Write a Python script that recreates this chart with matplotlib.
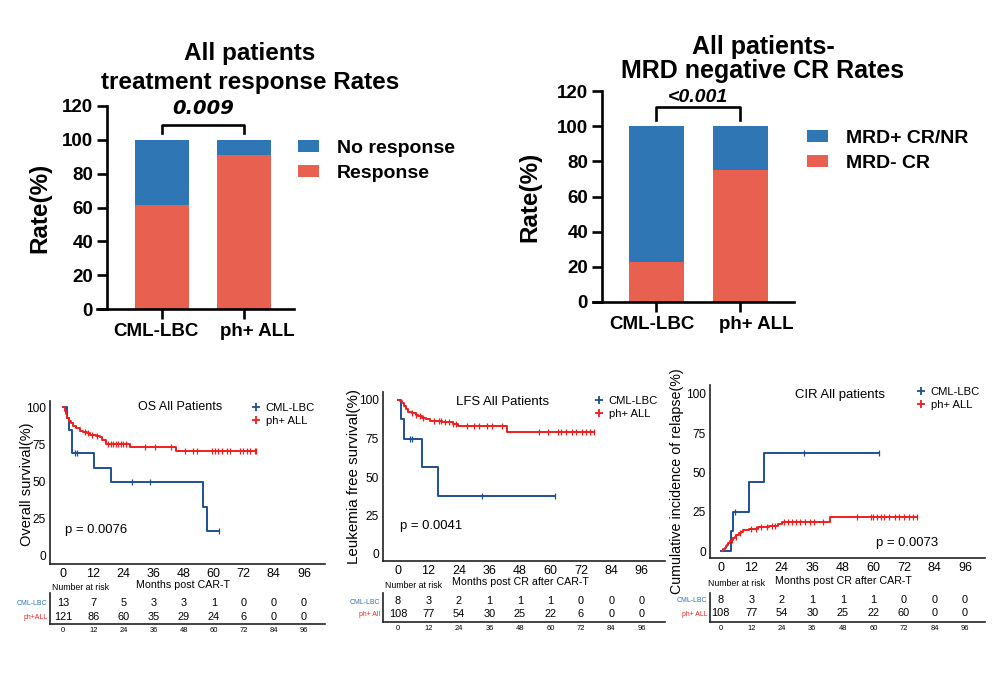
import numpy as np
import matplotlib
matplotlib.use("Agg")
import matplotlib.pyplot as plt
from matplotlib import font_manager
from matplotlib.lines import Line2D
from matplotlib.transforms import ScaledTranslation

# ---------------- data ----------------
groups = ["CML-LBC", "ph+ ALL"]

# treatment response rates (%)
response = [61.5, 91.0]
no_response = [38.5, 9.0]
p_response = "0.009"

# MRD negative CR rates (%)
mrd_neg_cr = [23.0, 75.0]
mrd_pos_cr_nr = [77.0, 25.0]
p_mrd = "<0.001"

# overall survival (months, %)
os_cml_time = [0, 1.5, 2.3, 3.6, 12.2, 19.0, 55.9, 57.2]
os_cml_surv = [100, 92.3, 84.6, 69.2, 59.3, 49.4, 32.9, 16.5]
os_cml_end = 62.0
os_cml_cens = [4.5, 5.3, 27.3, 34.6, 62.0]

os_ph_time = [0, 0.5, 1.0, 1.5, 2.2, 3.0, 4.0, 5.0, 6.5, 8.0, 9.5, 10.5, 13.0, 14.5,
              15.5, 17.0, 26.6, 44.8]
os_ph_surv = [100, 97.5, 95.0, 92.5, 90.8, 89.1, 87.4, 85.7, 84.0, 83.2, 82.3, 81.4,
              80.5, 79.6, 77.9, 75.3, 73.4, 70.7]
os_ph_end = 77.0
os_ph_cens = [8.5, 10.0, 11.5, 13.5, 18.0, 19.0, 20.0, 21.0, 22.0, 23.0, 24.0, 25.0,
              32.6, 36.6, 43.0, 48.5, 51.9, 53.2, 59.2, 60.5, 61.8, 63.2, 65.2, 66.5,
              70.5, 71.8, 73.1, 74.5, 76.5, 77.0]

# leukemia free survival
lfs_cml_time = [0, 1.2, 2.4, 9.6, 15.6]
lfs_cml_surv = [100, 87.5, 75.0, 56.3, 37.5]
lfs_cml_end = 62.0
lfs_cml_cens = [4.7, 5.4, 32.9, 62.0]

lfs_ph_time = [0, 0.8, 1.5, 2.2, 3.0, 4.0, 5.5, 7.0, 8.0, 9.5, 11.0, 12.5, 17.5, 21.5,
               23.5, 42.8]
lfs_ph_surv = [100, 99.1, 98.1, 96.2, 94.3, 92.4, 91.4, 90.4, 89.4, 88.4, 87.4, 86.4,
               85.4, 84.4, 83.2, 79.4]
lfs_ph_end = 77.0
lfs_ph_cens = [5.5, 7.0, 8.5, 10.0, 14.0, 16.0, 17.0, 18.5, 20.0, 21.5, 23.0, 27.0,
               30.0, 32.0, 35.0, 37.0, 41.0, 55.5, 59.0, 63.0, 64.0, 66.0, 68.5, 70.0,
               72.5, 74.0, 75.5, 77.0]

# cumulative incidence of relapse
cir_cml_time = [0, 4.0, 5.0, 11.1, 17.0]
cir_cml_inc = [0, 12.5, 25.0, 43.8, 62.5]
cir_cml_end = 62.2
cir_cml_cens = [5.6, 32.9, 62.2]

cir_ph_time = [0.4, 1.0, 1.5, 2.0, 2.5, 3.0, 3.5, 4.3, 5.0, 5.5, 6.2, 7.0, 8.0, 8.8,
               11.0, 14.7, 19.0, 22.6, 24.0, 42.9]
cir_ph_inc = [0, 1.0, 2.0, 3.0, 4.0, 5.0, 6.1, 7.1, 8.1, 9.1, 10.1, 11.2, 12.2, 13.3,
              14.3, 15.2, 16.2, 17.3, 18.7, 21.5]
cir_ph_end = 77.3
cir_ph_cens = [4.5, 6.0, 7.5, 12.0, 14.0, 16.0, 18.0, 20.0, 21.5, 25.0, 26.5, 28.0,
               29.5, 31.0, 33.0, 35.0, 36.5, 40.3, 53.5, 59.0, 60.0, 61.5, 63.0, 64.0,
               66.0, 68.5, 70.0, 72.0, 74.0, 75.5, 77.3]

# number at risk
risk_times = [0, 12, 24, 36, 48, 60, 72, 84, 96]
os_risk_cml = [13, 7, 5, 3, 3, 1, 0, 0, 0]
os_risk_ph = [121, 86, 60, 35, 29, 24, 6, 0, 0]
lfs_risk_cml = [8, 3, 2, 1, 1, 1, 0, 0, 0]
lfs_risk_ph = [108, 77, 54, 30, 25, 22, 6, 0, 0]
cir_risk_cml = [8, 3, 2, 1, 1, 1, 0, 0, 0]
cir_risk_ph = [108, 77, 54, 30, 25, 22, 60, 0, 0]

# ---------------- style ----------------
BAR_BLUE = "#2f76b4"
BAR_RED = "#e8604f"
KM_BLUE = "#1f4f91"
KM_RED = "#f01e1e"
RISK_BLUE = "#2c6eb5"
RISK_RED = "#e3262a"

plt.rcParams["font.family"] = ["Liberation Sans", "DejaVu Sans"]
names = {f.name for f in font_manager.fontManager.ttflist}
if "Liberation Sans Narrow" in names:
    KM_FONT, S = "Liberation Sans Narrow", 1.0
else:
    KM_FONT, S = "Liberation Sans", 0.9

W, H = 1000, 698
fig = plt.figure(figsize=(W / 100, H / 100), dpi=100)


def to_fig(x, y):
    return x / W, 1 - y / H


def px_axes(x0, y0, x1, y1):
    return fig.add_axes([x0 / W, 1 - y1 / H, (x1 - x0) / W, (y1 - y0) / H])


def bar_panel(box, c0, dx, spine_px, bar_px, lower, upper, lower_lab, upper_lab,
              title_lines, title_x, title_bases, title_fs, ylab_x, leg_xy,
              bracket, p_text, p_y, p_kw, label_shift):
    x0, y0, x1, y1 = box
    ax = px_axes(*box)
    pos = np.arange(len(groups))
    w = bar_px / dx
    ax.bar(pos, upper, w, bottom=lower, color=BAR_BLUE, label=upper_lab)
    ax.bar(pos, lower, w, color=BAR_RED, label=lower_lab)
    ax.set_xlim((x0 - c0) / dx, (x1 - c0) / dx)
    ax.set_ylim(0, 120)
    ax.spines[["top", "right"]].set_visible(False)
    ax.spines["left"].set_position(("data", (spine_px - c0) / dx))
    for s in ("left", "bottom"):
        ax.spines[s].set_linewidth(1.9)
    ax.set_yticks(range(0, 121, 20))
    ax.set_xticks(pos, groups)
    ax.tick_params(direction="out", length=7, width=1.9, labelsize=13.5, pad=3)
    for t in ax.get_xticklabels() + ax.get_yticklabels():
        t.set_fontweight("bold")
    # the category labels sit slightly off their ticks in the original
    for t, shift in zip(ax.get_xticklabels(), label_shift):
        t.set_transform(t.get_transform() + ScaledTranslation(shift / 100, 0, fig.dpi_scale_trans))
    ax.set_ylabel("Rate(%)", fontsize=17.5, fontweight="bold", va="center")
    ax.yaxis.set_label_coords((ylab_x - x0) / (x1 - x0), 0.5)
    lo, hi = bracket
    ax.plot([0, 0, 1, 1], [lo, hi, hi, lo], color="black", lw=1.9, clip_on=False)
    ax.text(0.5, p_y, p_text, ha="center", va="center", fontweight="bold",
            fontstyle="italic", **p_kw)
    ax.legend(loc="center left", bbox_to_anchor=to_fig(*leg_xy),
              bbox_transform=fig.transFigure, frameon=False,
              prop={"weight": "bold", "size": 14}, handlelength=1.1, handleheight=0.6,
              handletextpad=0.9, labelspacing=0.4, borderpad=0, borderaxespad=0)
    for line, base in zip(title_lines, title_bases):
        fig.text(title_x / W, 1 - base / H, line, ha="center", va="baseline",
                 fontsize=title_fs, fontweight="bold")


bar_panel((97, 106, 294, 309), 162, 82, 107, 54, response, no_response,
          "Response", "No response",
          ["All patients", "treatment response Rates"], 250, (60, 88.5), 17.5,
          40, (298, 161), (103.9, 108.8), p_response, 118.5,
          {"fontsize": 14, "family": "DejaVu Sans"}, (-6, 13))

bar_panel((593, 91, 794, 302), 656, 84, 602, 55, mrd_neg_cr, mrd_pos_cr_nr,
          "MRD- CR", "MRD+ CR/NR",
          ["All patients-", "MRD negative CR Rates"], 763, (54, 78), 18,
          530, (807, 151), (103.4, 110.9), p_mrd, 116.5,
          {"fontsize": 14}, (-4, 16))


def km_panel(L, cml, ph, risk_cml, risk_ph, labels, row_labels, title, ylabel,
             ptxt, xlabel):
    bx0, by0, bx1, by1 = L["box"]
    ax = px_axes(bx0, by0, bx1, by1)
    xlim = ((bx0 - L["x0"]) / L["ppm"], (bx1 - L["x0"]) / L["ppm"])
    ax.set_xlim(*xlim)
    ax.set_ylim((L["y0"] - by1) / L["ppu"], (L["y0"] - by0) / L["ppu"])
    handles = []
    for (t, s, end, cens), color, lab in zip((cml, ph), (KM_BLUE, KM_RED), labels):
        ax.step(list(t) + [end], list(s) + [s[-1]], where="post", color=color, lw=1.4)
        idx = np.searchsorted(t, cens, side="right") - 1
        ax.plot(cens, np.asarray(s)[idx], ls="", marker="|", ms=4.5, mew=0.9,
                color=color)
        handles.append(Line2D([], [], ls="", marker="+", ms=6, mew=1.3, color=color,
                              label=lab))
    ax.spines[["top", "right"]].set_visible(False)
    for s in ("left", "bottom"):
        ax.spines[s].set_linewidth(1.2)
        ax.spines[s].set_color("#222222")
    ax.set_xticks(risk_times, labels=[str(v) for v in risk_times], fontsize=10 * S,
                  family=KM_FONT)
    ax.set_yticks([0, 25, 50, 75, 100], labels=["0", "25", "50", "75", "100"],
                  fontsize=9.5 * S, family=KM_FONT)
    ax.tick_params(length=0, pad=3)
    ax.set_ylabel(ylabel, fontsize=L["ylab_fs"], family=KM_FONT, va="center")
    lx, ly = L["ylab"]
    ax.yaxis.set_label_coords((lx - bx0) / (bx1 - bx0), (by1 - ly) / (by1 - by0))
    ax.legend(handles=handles, loc="upper left", bbox_to_anchor=to_fig(*L["leg"]),
              bbox_transform=fig.transFigure, frameon=False,
              prop={"family": KM_FONT, "size": 9 * S}, handlelength=0.8,
              handletextpad=0.5, labelspacing=0.3, borderpad=0, borderaxespad=0)
    fig.text(*to_fig(*L["title"]), title, ha="center", va="center",
             fontsize=L["title_fs"] * S, family=KM_FONT)
    fig.text(*to_fig(*L["p"]), ptxt, ha="left", va="center", fontsize=10.5 * S,
             family=KM_FONT)
    fig.text(*to_fig(*L["xlab"]), xlabel, ha="center", va="center", fontsize=8.5 * S,
             family=KM_FONT)
    fig.text(*to_fig(*L["nar"]), "Number at risk", ha="left", va="center",
             fontsize=7 * S, family=KM_FONT)

    rt, rb = L["risk_box"]
    rax = px_axes(bx0, rt, bx1, rb)
    rax.set_xlim(*xlim)
    r0, r1 = L["rows"]
    step = r1 - r0
    rax.set_ylim(-(rb - r1) / step, 1 + (r0 - rt) / step)
    for x, a, b in zip(risk_times, risk_cml, risk_ph):
        rax.text(x, 1, str(a), ha="center", va="center", fontsize=8.8 * S,
                 family=KM_FONT)
        rax.text(x, 0, str(b), ha="center", va="center", fontsize=8.8 * S,
                 family=KM_FONT)
    rax.set_yticks([1, 0], labels=row_labels, fontsize=5.5 * S, family=KM_FONT)
    for tl, c in zip(rax.get_yticklabels(), (RISK_BLUE, RISK_RED)):
        tl.set_color(c)
    rax.set_xticks(risk_times, labels=[str(v) for v in risk_times], fontsize=6 * S,
                   family=KM_FONT)
    rax.tick_params(length=0, pad=2)
    rax.spines[["top", "right"]].set_visible(False)
    for s in ("left", "bottom"):
        rax.spines[s].set_linewidth(1.2)
        rax.spines[s].set_color("#222222")


os_layout = dict(box=(50, 401, 325, 564), x0=63.3, ppm=2.507, y0=556, ppu=1.49,
                 risk_box=(593, 624), rows=(602.5, 616.5), ylab=(27, 484), ylab_fs=10.5,
                 leg=(251, 403), title=(180, 407), title_fs=10, p=(65, 530),
                 xlab=(183, 585), nar=(52, 588))
lfs_layout = dict(box=(383, 392, 665, 561), x0=398, ppm=2.54, y0=554, ppu=1.54,
                  risk_box=(593, 622), rows=(601, 614), ylab=(354, 477), ylab_fs=10.9,
                  leg=(594, 396), title=(503, 402), title_fs=10.5, p=(400, 526),
                  xlab=(520, 582), nar=(385, 586))
cir_layout = dict(box=(710, 385, 985, 558), x0=720.7, ppm=2.545, y0=551, ppu=1.57,
                  risk_box=(593, 622), rows=(600, 613), ylab=(677, 481), ylab_fs=10.3,
                  leg=(916, 387), title=(840, 395), title_fs=10.5, p=(876, 543),
                  xlab=(843, 581), nar=(708, 584))

km_panel(os_layout,
         (os_cml_time, os_cml_surv, os_cml_end, os_cml_cens),
         (os_ph_time, os_ph_surv, os_ph_end, os_ph_cens),
         os_risk_cml, os_risk_ph, ["CML-LBC", "ph+ ALL"], ["CML-LBC", "ph+ALL"],
         "OS All Patients", "Overall survival(%)", "p = 0.0076", "Months post CAR-T")

km_panel(lfs_layout,
         (lfs_cml_time, lfs_cml_surv, lfs_cml_end, lfs_cml_cens),
         (lfs_ph_time, lfs_ph_surv, lfs_ph_end, lfs_ph_cens),
         lfs_risk_cml, lfs_risk_ph, ["CML-LBC", "ph+ ALL"], ["CML-LBC", "ph+ All"],
         "LFS All Patients", "Leukemia free survival(%)", "p = 0.0041",
         "Months post CR after CAR-T")

km_panel(cir_layout,
         (cir_cml_time, cir_cml_inc, cir_cml_end, cir_cml_cens),
         (cir_ph_time, cir_ph_inc, cir_ph_end, cir_ph_cens),
         cir_risk_cml, cir_risk_ph, ["CML-LBC", "ph+ ALL"], ["CML-LBC", "ph+ ALL"],
         "CIR All patients", "Cumulative incidence of relapse(%)", "p = 0.0073",
         "Months post CR after CAR-T")

fig.savefig("out.png", dpi=100)
